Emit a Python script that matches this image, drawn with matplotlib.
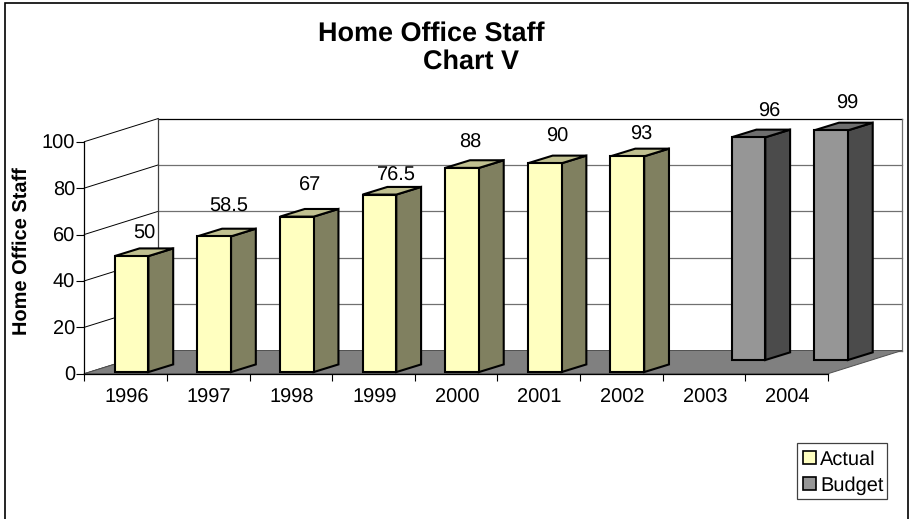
import matplotlib
matplotlib.use('Agg')
import matplotlib.pyplot as plt
from matplotlib.patches import Patch, Polygon, Rectangle

plt.rcParams['font.family'] = ['Liberation Sans', 'DejaVu Sans']
plt.rcParams['text.hinting'] = 'no_hinting'
plt.rcParams['text.hinting_factor'] = 1

years = ['1996', '1997', '1998', '1999', '2000', '2001', '2002', '2003', '2004']
actual = [50, 58.5, 67, 76.5, 88, 90, 93, None, None]
budget = [None, None, None, None, None, None, None, 96, 99]
y_ticks = [0, 20, 40, 60, 80, 100]

FONT = 14.7

# depth of the fake 3d box, in data units
DEPTH_X = 0.8955
DEPTH_Y = 10
BAR_X = 0.305
BAR_W = 0.408
BAR_DX = 0.30
BAR_DY = 3.3

# the value labels are not evenly placed in the original, nudges in pixels
actual_nudge = [(13, 22), (14.5, 30), (13, 31), (17, 19), (8, 25), (12, 27), (13.5, 22), None, None]
budget_nudge = [None, None, None, None, None, None, None, (21, 26), (16.5, 27)]


def draw_bar(ax, x, value, z, front, side, top):
    '''one 3d looking bar, z is how far back it sits (0 to 1)'''
    x0 = x + z * DEPTH_X
    base = z * DEPTH_Y
    x1 = x0 + BAR_W
    y1 = base + value
    dark = dict(edgecolor='black', linewidth=1.5, joinstyle='miter', clip_on=False, zorder=5)
    ax.add_patch(Polygon([(x1, base), (x1 + BAR_DX, base + BAR_DY),
                          (x1 + BAR_DX, y1 + BAR_DY), (x1, y1)], facecolor=side, **dark))
    ax.add_patch(Polygon([(x0, y1), (x1, y1), (x1 + BAR_DX, y1 + BAR_DY),
                          (x0 + BAR_DX, y1 + BAR_DY)], facecolor=top, **dark))
    ax.add_patch(Polygon([(x0, base), (x1, base), (x1, y1), (x0, y1)], facecolor=front, **dark))
    return x0 + BAR_W / 2, y1


def draw_series(ax, values, nudges, z, front, side, top):
    for i, v in enumerate(values):
        if v is None:
            continue
        cx, cy = draw_bar(ax, i + BAR_X, v, z, front, side, top)
        ax.annotate(str(v), (cx, cy), xytext=nudges[i], textcoords='offset pixels',
                    ha='center', va='center', fontsize=FONT, annotation_clip=False, zorder=6)


fig = plt.figure(figsize=(9.11, 5.19), dpi=100)
ax = fig.add_axes([84.3 / 911, (519 - 373.7) / 519, (828 - 84.3) / 911, 232 / 519])
ax.set_xlim(0, len(years))
ax.set_ylim(0, 100)

# outer frame of the chart area, bottom edge is cut off in the original
fig.add_artist(Rectangle((4.5 / 911, -0.02), 903.2 / 911, 1.0 - 2.5 / 519 + 0.02, transform=fig.transFigure,
                         fill=False, edgecolor='black', linewidth=1.2))

# back wall and side wall
n = len(years)
for v in y_ticks:
    ax.plot([0, DEPTH_X], [v, v + DEPTH_Y], color='black', lw=0.7, clip_on=False, zorder=1)
    col = 'black' if v == 100 else '#707070'
    ax.plot([DEPTH_X, n + DEPTH_X], [v + DEPTH_Y, v + DEPTH_Y], color=col, lw=0.9, clip_on=False, zorder=1)
ax.plot([DEPTH_X, DEPTH_X], [DEPTH_Y, 100 + DEPTH_Y], color='#404040', lw=0.9, clip_on=False, zorder=1)
ax.plot([n + DEPTH_X, n + DEPTH_X], [DEPTH_Y, 100 + DEPTH_Y], color='#707070', lw=0.9, clip_on=False, zorder=1)

# floor
ax.add_patch(Polygon([(0, 0), (n, 0), (n + DEPTH_X, DEPTH_Y), (DEPTH_X, DEPTH_Y)],
                     facecolor='#808080', edgecolor='#505050', linewidth=0.7, clip_on=False, zorder=2))

draw_series(ax, budget, budget_nudge, 0.59, '#969696', '#4b4b4b', '#6e6e6e')
draw_series(ax, actual, actual_nudge, 0.07, '#ffffc0', '#808060', '#c0c090')

# axes
ax.patch.set_visible(False)
ax.spines['top'].set_visible(False)
ax.spines['right'].set_visible(False)
for side in ['left', 'bottom']:
    ax.spines[side].set_linewidth(0.9)
    ax.spines[side].set_zorder(4)
ax.set_yticks(y_ticks)
ax.set_xticks(range(n + 1))
ax.set_xticklabels([])
ax.set_xticks([i + 0.51 for i in range(n)], minor=True)
ax.set_xticklabels(years, minor=True, fontsize=FONT)
ax.tick_params(axis='x', which='major', length=5, width=0.8)
ax.tick_params(axis='x', which='minor', length=0, pad=10.5)
ax.tick_params(axis='y', length=5.5, width=0.8, labelsize=FONT, pad=1)

fig.text(318 / 911, 1 - 21.5 / 519, 'Home Office Staff\n              Chart V', fontsize=19.15, fontweight='bold',
         ha='left', va='top', linespacing=1.15)
fig.text(22 / 911, 1 - 251 / 519, 'Home Office Staff', fontsize=14.4, fontweight='bold',
         rotation=90, ha='center', va='center')

# legend box drawn apart so the rows can sit centred in it
fig.add_artist(Rectangle((797.3 / 911, (519 - 499.3) / 519), 89.4 / 911, 56 / 519, transform=fig.transFigure,
                         facecolor='white', edgecolor='#404040', linewidth=0.9))
handles = [Patch(facecolor='#ffffc0', edgecolor='black', linewidth=1.2, label='Actual'),
           Patch(facecolor='#969696', edgecolor='black', linewidth=1.2, label='Budget')]
fig.legend(handles=handles, loc='lower left', bbox_to_anchor=(796.8 / 911, (519 - 501) / 519), fontsize=FONT,
           frameon=False, borderaxespad=0,
           handlelength=0.62, handleheight=0.62, handletextpad=0.22, labelspacing=0.36, borderpad=0.3)

fig.savefig('out.png', dpi=100)
